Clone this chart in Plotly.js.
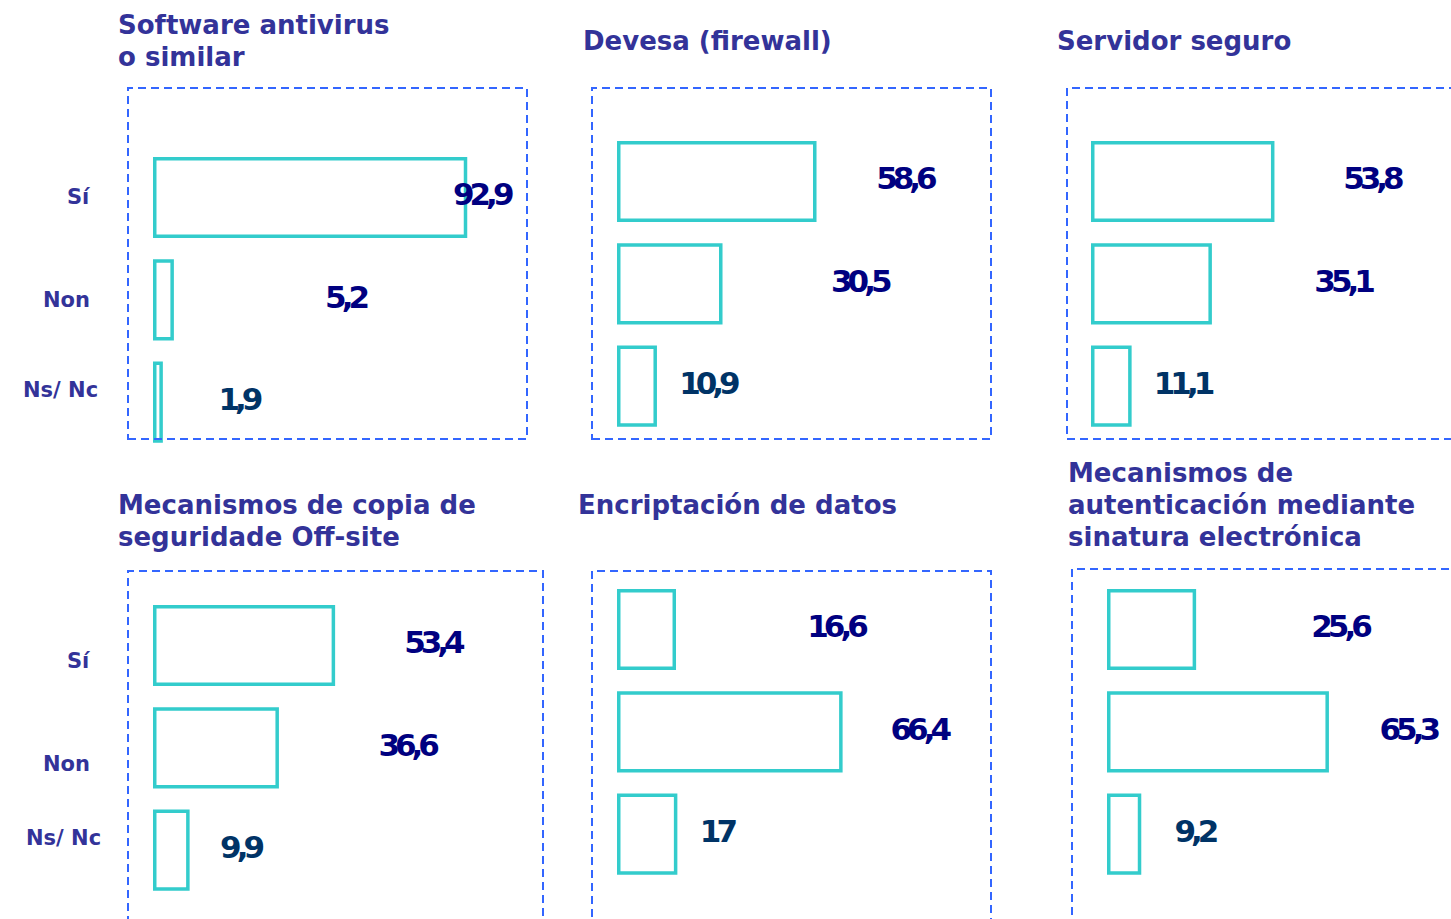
<!DOCTYPE html>
<html><head><meta charset="utf-8">
<script src="https://cdn.plot.ly/plotly-3.0.1.min.js"></script>
<style>
html,body{margin:0;padding:0;background:#fff;}
#chart{width:1451px;height:919px;}
.textpoint text{letter-spacing:-5px;}
</style></head><body><div id="chart"></div>
<script>
// ---- data ----
const categories = ['Sí', 'Non', 'Ns/ Nc'];
const titles = [
  'Software antivirus<br>o similar',
  'Devesa (firewall)',
  'Servidor seguro',
  'Mecanismos de copia de<br>seguridade Off-site',
  'Encriptación de datos',
  'Mecanismos de<br>autenticación mediante<br>sinatura electrónica'
];
const antivirus    = [92.9, 5.2, 1.9];
const firewall     = [58.6, 30.5, 10.9];
const servidor     = [53.8, 35.1, 11.1];
const copia        = [53.4, 36.6, 9.9];
const encriptacion = [16.6, 66.4, 17];
const sinatura     = [25.6, 65.3, 9.2];

// ---- layout / style config (pixels) ----
const W = 1451, H = 919, S = 3.345, SLOT = 102.3, LINE_H = 32;
const panels = [
  {values: antivirus,    box: [128, 527, 88, 439],   base: 154.75,  c0: 197.5, labelX: [97.6, 56.9, 25.0], tx: 116, ty: 41},
  {values: firewall,     box: [592, 991, 88, 439],   base: 618.75,  c0: 181.5, labelX: [85.4, 71.9, 26.5], tx: 581, ty: 41},
  {values: servidor,     box: [1067, 1470, 88, 439], base: 1092.75, c0: 181.5, labelX: [83.3, 74.7, 26.7], tx: 1055, ty: 41},
  {values: copia,        box: [128, 543, 571, 930],  base: 154.75,  c0: 645.5, labelX: [83.0, 75.3, 25.5], tx: 116, ty: 521},
  {values: encriptacion, box: [592, 991, 571, 930],  base: 618.75,  c0: 629.5, labelX: [64.8, 89.7, 29.2], tx: 576, ty: 505},
  {values: sinatura,     box: [1072, 1470, 569, 930], base: 1108.75, c0: 629.5, labelX: [69.0, 89.4, 25.6], tx: 1066, ty: 505}
];
const catLabelPos = [
  [[89, 197], [88, 300], [96, 390]],
  [[89, 661], [88, 764], [99, 838]]
];
const valueColors = ['#000080', '#000080', '#003366'];
const TITLE_COLOR = '#333399';
const FONT = 'DejaVu Sans, Verdana, sans-serif';

const px2x = p => p / W;
const px2y = p => 1 - p / H;
const fmt = v => String(v).replace('.', ',');

const traces = [];
const layout = {
  width: W, height: H,
  margin: {l: 0, r: 0, t: 0, b: 0},
  paper_bgcolor: '#fff', plot_bgcolor: 'rgba(0,0,0,0)',
  showlegend: false,
  shapes: [], annotations: []
};

panels.forEach((p, i) => {
  const n = i + 1;
  const xa = 'x' + (n === 1 ? '' : n), ya = 'y' + (n === 1 ? '' : n);
  const xKey = 'xaxis' + (n === 1 ? '' : n), yKey = 'yaxis' + (n === 1 ? '' : n);
  const [l, r, t, b] = p.box;
  const rEff = Math.min(r, W);
  layout[xKey] = {
    domain: [px2x(l), px2x(rEff)],
    range: [(l - p.base) / S, (rEff - p.base) / S],
    visible: false, fixedrange: true
  };
  const top = p.c0 - 0.5 * SLOT, bot = p.c0 + 2.5 * SLOT;
  layout[yKey] = {
    domain: [Math.max(0, px2y(bot)), Math.min(1, px2y(top))],
    type: 'category', categoryorder: 'array', categoryarray: categories,
    range: [2.5, -0.5],
    visible: false, fixedrange: true
  };
  traces.push({
    type: 'bar', orientation: 'h', x: p.values, y: categories,
    xaxis: xa, yaxis: ya, width: 0.76,
    marker: {color: 'rgba(255,255,255,0)', line: {color: '#33CCCC', width: 3.5}},
    hoverinfo: 'skip'
  });
  traces.push({
    type: 'scatter', mode: 'text', x: p.labelX, y: categories,
    xaxis: xa, yaxis: ya, cliponaxis: false,
    text: p.values.map(fmt), textposition: 'middle center',
    textfont: {family: FONT, size: 31, color: valueColors, weight: 'bold'},
    hoverinfo: 'skip'
  });
  layout.shapes.push({
    type: 'rect', xref: 'paper', yref: 'paper',
    x0: px2x(l), x1: px2x(r), y0: px2y(b), y1: px2y(t),
    line: {color: '#3366FF', width: 2, dash: '8px,5px'},
    fillcolor: 'rgba(0,0,0,0)'
  });
  const lines = titles[i].split('<br>');
  const first = p.ty - (lines.length - 1) * LINE_H / 2;
  lines.forEach((ln, k) => {
    layout.annotations.push({
      xref: 'paper', yref: 'paper', x: px2x(p.tx), y: px2y(first + k * LINE_H),
      xanchor: 'left', yanchor: 'middle', align: 'left', showarrow: false,
      text: ln,
      font: {family: FONT, size: 26, color: TITLE_COLOR, weight: 'bold'}
    });
  });
});

catLabelPos.forEach(rows => {
  rows.forEach((pos, j) => {
    layout.annotations.push({
      xref: 'paper', yref: 'paper', x: px2x(pos[0] + 4), y: px2y(pos[1]),
      xanchor: 'right', yanchor: 'middle', showarrow: false,
      text: categories[j],
      font: {family: FONT, size: 21, color: TITLE_COLOR, weight: 'bold'}
    });
  });
});

Plotly.newPlot('chart', traces, layout, {staticPlot: true, displayModeBar: false});
</script></body></html>
